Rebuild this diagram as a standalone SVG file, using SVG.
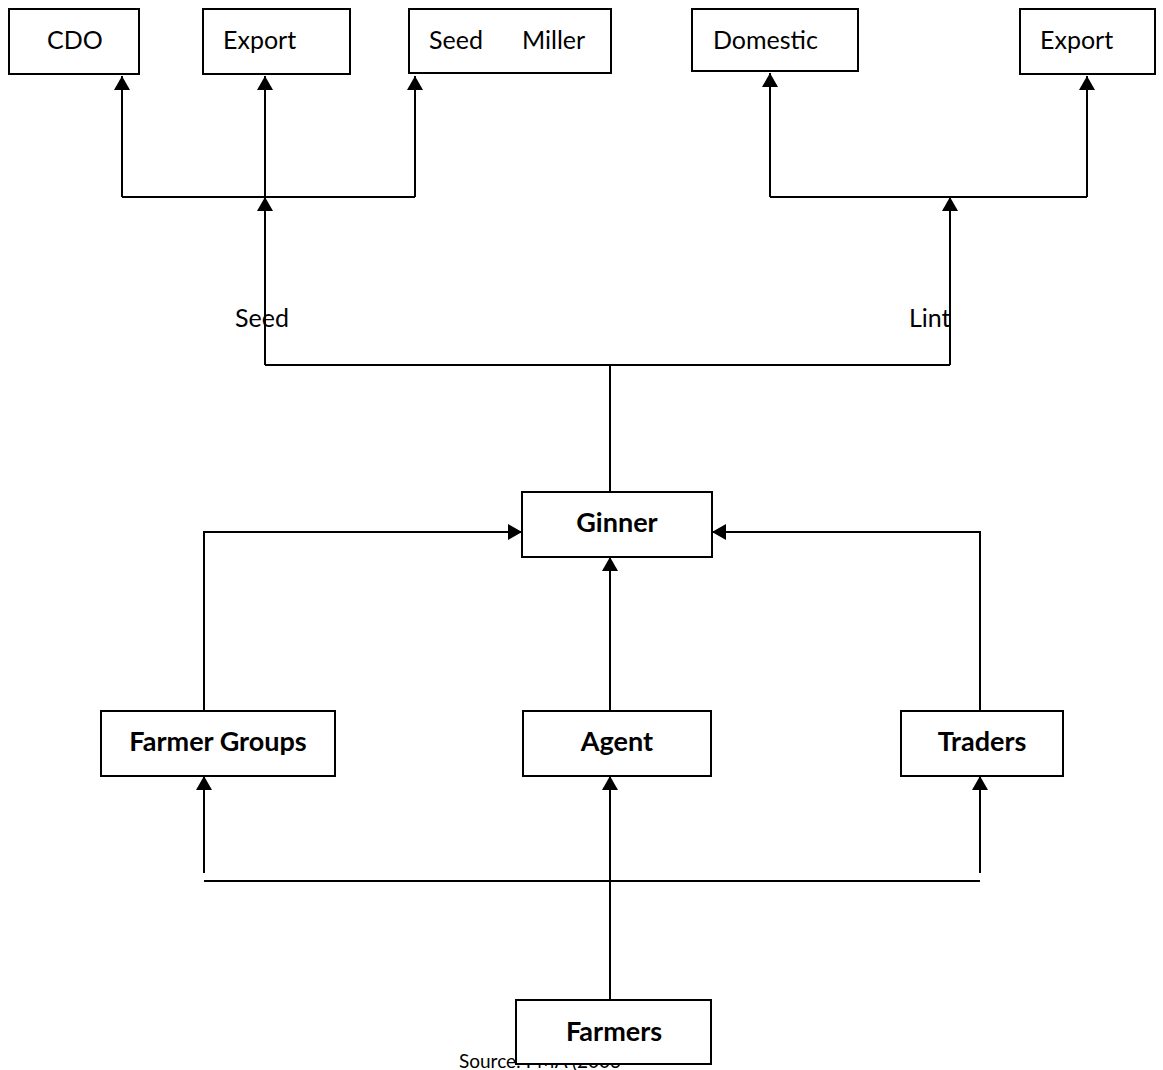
<svg xmlns="http://www.w3.org/2000/svg" width="1163" height="1070" viewBox="0 0 1163 1070">
<style>
.box{fill:#fff;stroke:#000;stroke-width:2}
.t{font-family:Lato,"Open Sans","Liberation Sans",sans-serif;font-size:25px;fill:#000}
.b{font-weight:bold;text-anchor:middle;font-size:27px}
.ln{fill:none;stroke:#000;stroke-width:2}
.s{font-family:Lato,"Open Sans","Liberation Sans",sans-serif;font-size:19px;fill:#000}
</style>
<defs>
<marker id="ah" viewBox="0 0 14 16" refX="14" refY="8" markerWidth="14" markerHeight="16" markerUnits="userSpaceOnUse" orient="auto">
<path d="M0,0 L14,8 L0,16 Z" fill="#000"/>
</marker>
</defs>
<text class="s" x="459" y="1068">Source: PMA (2003</text>
<g id="connectors">
<path class="ln" d="M122,197 H415"/>
<path class="ln" d="M122,197 V76" marker-end="url(#ah)"/>
<path class="ln" d="M265,197 V76" marker-end="url(#ah)"/>
<path class="ln" d="M415,197 V76" marker-end="url(#ah)"/>
<path class="ln" d="M770,197 H1087"/>
<path class="ln" d="M770,197 V73" marker-end="url(#ah)"/>
<path class="ln" d="M1087,197 V76" marker-end="url(#ah)"/>
<path class="ln" d="M265,365 V197" marker-end="url(#ah)"/>
<path class="ln" d="M950,365 V197" marker-end="url(#ah)"/>
<path class="ln" d="M265,365 H950"/>
<path class="ln" d="M610,365 V492"/>
<path class="ln" d="M204,711 V532 H522" marker-end="url(#ah)"/>
<path class="ln" d="M980,711 V532 H712" marker-end="url(#ah)"/>
<path class="ln" d="M610,711 V557" marker-end="url(#ah)"/>
<path class="ln" d="M204,873 V776" marker-end="url(#ah)"/>
<path class="ln" d="M980,873 V776" marker-end="url(#ah)"/>
<path class="ln" d="M204,881 H980"/>
<path class="ln" d="M610,1000 V776" marker-end="url(#ah)"/>
</g>
<text class="t" x="235" y="327">Seed</text>
<text class="t" x="909" y="327">Lint</text>
<g id="cdo"><rect class="box" x="9" y="9" width="130" height="65"/><text class="t" x="47" y="49">CDO</text></g>
<g id="export1"><rect class="box" x="203" y="9" width="147" height="65"/><text class="t" x="223" y="49">Export</text></g>
<g id="seedmiller"><rect class="box" x="409" y="9" width="202" height="64"/><text class="t" y="49"><tspan x="429">Seed</tspan><tspan x="522">Miller</tspan></text></g>
<g id="domestic"><rect class="box" x="692" y="9" width="166" height="62"/><text class="t" x="713" y="49">Domestic</text></g>
<g id="export2"><rect class="box" x="1020" y="9" width="135" height="65"/><text class="t" x="1040" y="49">Export</text></g>
<g id="ginner"><rect class="box" x="522" y="492" width="190" height="65"/><text class="t b" x="617" y="532">Ginner</text></g>
<g id="farmergroups"><rect class="box" x="101" y="711" width="234" height="65"/><text class="t b" x="218" y="751">Farmer Groups</text></g>
<g id="agent"><rect class="box" x="523" y="711" width="188" height="65"/><text class="t b" x="617" y="751">Agent</text></g>
<g id="traders"><rect class="box" x="901" y="711" width="162" height="65"/><text class="t b" x="982" y="751">Traders</text></g>
<g id="farmers"><rect class="box" x="516" y="1000" width="195" height="64"/><text class="t b" x="614" y="1041">Farmers</text></g>
</svg>
